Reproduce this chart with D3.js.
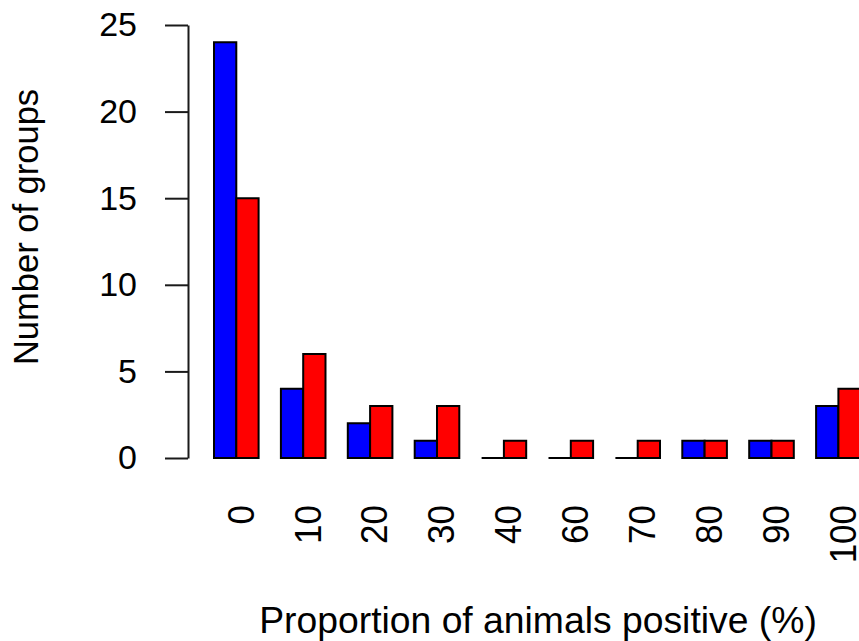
<!DOCTYPE html>
<html>
<head>
<meta charset="utf-8">
<script src="https://cdn.jsdelivr.net/npm/d3@7"></script>
<style>
  html, body { margin: 0; padding: 0; background: #fff; }
  svg { display: block; }
  text { font-family: "Liberation Sans", Arial, sans-serif; fill: #000; }
</style>
</head>
<body>
<svg id="chart" width="859" height="641"></svg>
<script>
// Proportion bins (%) and group counts for the two series
const categories = ["0", "10", "20", "30", "40", "60", "70", "80", "90", "100"];
const blueCounts = [24, 4, 2, 1, 0, 0, 0, 1, 1, 3];
const redCounts  = [15, 6, 3, 3, 1, 1, 1, 1, 1, 4];
const seriesNames = ["blue", "red"];
const seriesColors = ["#0000ff", "#ff0000"];
const yTicks = [0, 5, 10, 15, 20, 25];
const xTitle = "Proportion of animals positive (%)";
const yTitle = "Number of groups";

const svg = d3.select("#chart");

const y = d3.scaleLinear().domain([0, 25]).range([458, 25]);

// Each group: one unit of space followed by two bars of one unit each
const x = d3.scaleBand()
  .domain(categories)
  .range([214, 860.7])
  .paddingInner(1 / 3)
  .paddingOuter(0);

const xSub = d3.scaleBand()
  .domain(seriesNames)
  .range([0, x.bandwidth()]);

const color = d3.scaleOrdinal().domain(seriesNames).range(seriesColors);

const rows = categories.map((c, i) => ({
  cat: c,
  values: [
    { key: "blue", value: blueCounts[i] },
    { key: "red", value: redCounts[i] }
  ]
}));

// Bars drawn as closed paths so that zero-height bars still show their outline
const g = svg.append("g");
g.selectAll("g.group")
  .data(rows)
  .join("g")
  .attr("class", "group")
  .attr("transform", d => `translate(${x(d.cat)},0)`)
  .selectAll("path")
  .data(d => d.values)
  .join("path")
  .attr("d", d => {
    const x0 = xSub(d.key), x1 = x0 + xSub.bandwidth();
    const y0 = y(0), y1 = y(d.value);
    return `M${x0},${y0}V${y1}H${x1}V${y0}Z`;
  })
  .attr("fill", d => color(d.key))
  .attr("stroke", "#000")
  .attr("stroke-width", 2)
  .attr("stroke-linejoin", "miter");

// Y axis
const yAxis = d3.axisLeft(y)
  .tickValues(yTicks)
  .tickFormat(d3.format("d"))
  .tickSize(23)
  .tickSizeOuter(0)
  .tickPadding(28);

const ya = svg.append("g")
  .attr("transform", "translate(188,0)")
  .call(yAxis);
ya.select(".domain").attr("stroke", "#1a1a1a").attr("stroke-width", 2);
ya.selectAll(".tick line").attr("stroke", "#1a1a1a").attr("stroke-width", 2);
ya.selectAll(".tick text")
  .attr("font-size", 34)
  .attr("font-family", "Liberation Sans, Arial, sans-serif")
  .attr("fill", "#000");

// Category labels, rotated, reading upward
svg.append("g")
  .selectAll("text")
  .data(categories)
  .join("text")
  .attr("transform", d => `translate(${x(d) + x.bandwidth() / 2},505) rotate(-90) scale(1,1.08)`)
  .attr("text-anchor", "end")
  .attr("dy", "0.46em")
  .attr("font-size", 35)
  .text(d => d);

// Axis titles
svg.append("text")
  .attr("x", 538)
  .attr("y", 633)
  .attr("text-anchor", "middle")
  .attr("font-size", 37.3)
  .text(xTitle);

svg.append("text")
  .attr("transform", "translate(38,227) rotate(-90)")
  .attr("text-anchor", "middle")
  .attr("font-size", 34.5)
  .text(yTitle);
</script>
</body>
</html>
